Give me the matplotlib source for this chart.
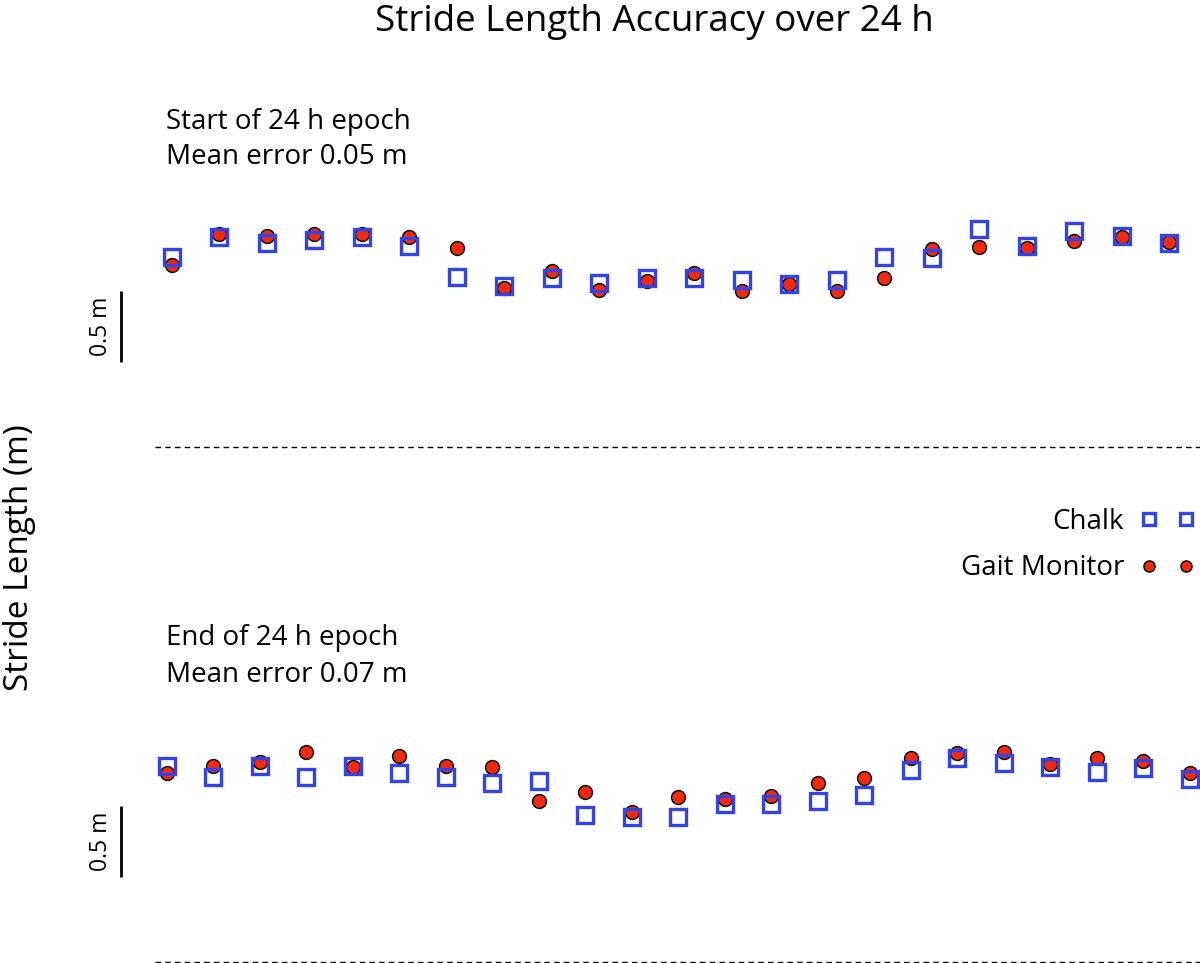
import matplotlib
matplotlib.use("Agg")
import matplotlib.pyplot as plt
import matplotlib.transforms as mtransforms

plt.rcParams['font.family'] = ['Open Sans', 'DejaVu Sans']

# stride lengths (m), start of the 24 h epoch
chalk_start = [1.340, 1.481, 1.434, 1.458, 1.481, 1.415, 1.199, 1.134, 1.188, 1.153, 1.188,
               1.188, 1.176, 1.146, 1.176, 1.338, 1.329, 1.533, 1.415, 1.523, 1.488, 1.434]
gait_start = [1.284, 1.500, 1.488, 1.498, 1.502, 1.479, 1.404, 1.118, 1.239, 1.106, 1.169,
              1.225, 1.099, 1.148, 1.099, 1.192, 1.396, 1.408, 1.404, 1.451, 1.477, 1.442]

# stride lengths (m), end of the 24 h epoch
chalk_end = [1.382, 1.305, 1.382, 1.305, 1.382, 1.329, 1.305, 1.263, 1.275, 1.035, 1.023, 1.023,
             1.111, 1.111, 1.134, 1.176, 1.352, 1.439, 1.404, 1.371, 1.340, 1.364, 1.287]
gait_end = [1.329, 1.382, 1.406, 1.479, 1.375, 1.451, 1.382, 1.375, 1.136, 1.195, 1.058, 1.160,
            1.148, 1.169, 1.263, 1.294, 1.434, 1.470, 1.481, 1.394, 1.434, 1.418, 1.333]

W, H = 1200, 963
fig = plt.figure(figsize=(W / 100, H / 100), dpi=100)

def px(x, y):
    return x / W, 1 - y / H

SQ_COL = '#3344e6'
DOT_COL = '#ee2a10'
PX_PER_M = 142.0

def panel(chalk, gait, y_base, y_top, x_first, step, lines):
    ax = fig.add_axes([0, 1 - y_base / H, 1, (y_base - y_top) / H])
    n = len(chalk)
    strides = list(range(1, n + 1))
    ax.plot(strides, gait, 'o', ms=10, mfc=DOT_COL, mec='black', mew=1.0, label='Gait Monitor')
    ax.plot(strides, chalk, 's', ms=11, mfc='none', mec=SQ_COL, mew=2.4, label='Chalk')
    ax.set_xlim(1 - x_first / step, 1 + (W - x_first) / step)
    ax.set_ylim(0, (y_base - y_top) / PX_PER_M)
    ax.axis('off')
    ax.axhline(0, xmin=155 / W, xmax=1, color='black', lw=1.0, ls=(0, (4, 3)), clip_on=False)
    # 0.5 m scale bar
    trans = mtransforms.blended_transform_factory(ax.transAxes, ax.transData)
    ax.plot([121 / W, 121 / W], [0.6, 1.1], color='black', lw=2.0, transform=trans,
            solid_capstyle='butt')
    ax.text(101 / W, 0.85, '0.5 m', rotation=90, ha='center', va='center', fontsize=16.5,
            transform=trans)
    fig.text(*px(166, lines[0][1]), lines[0][0], ha='left', va='center', fontsize=20)
    fig.text(*px(166, lines[1][1]), lines[1][0], ha='left', va='center', fontsize=20)
    return ax

ax1 = panel(chalk_start, gait_start, 447, 100, 172, 47.48,
            [('Start of 24 h epoch', 122), ('Mean error 0.05 m', 157)])
ax2 = panel(chalk_end, gait_end, 962, 610, 166.7, 46.5,
            [('End of 24 h epoch', 638), ('Mean error 0.07 m', 675)])

fig.text(*px(654, 22), 'Stride Length Accuracy over 24 h', ha='center', va='center', fontsize=26.5)
fig.text(*px(20, 558), 'Stride Length (m)', ha='center', va='center', rotation=90, fontsize=24)

h, l = ax1.get_legend_handles_labels()
leg = fig.legend(h[::-1], l[::-1], loc='center right', bbox_to_anchor=px(1200, 545),
                 frameon=False, numpoints=2, markerfirst=False, fontsize=20,
                 handlelength=1.93, handletextpad=0.6, markerscale=0.8, labelspacing=0.68,
                 borderaxespad=0, borderpad=0.2)

fig.savefig('out.png', dpi=100)
